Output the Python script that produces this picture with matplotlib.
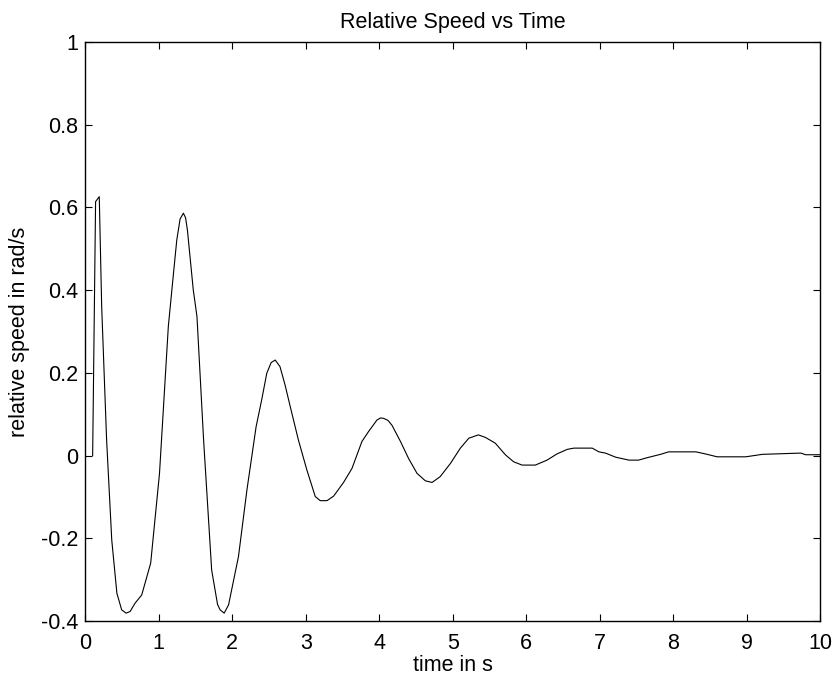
import matplotlib
matplotlib.use("Agg")
import matplotlib.pyplot as plt
import numpy as np

# values (time in s, relative speed in rad/s)
time_s = [0.10, 0.14, 0.19, 0.223, 0.29, 0.36, 0.43, 0.495, 0.555, 0.61,
          0.677, 0.768, 0.89, 1.01, 1.13, 1.20, 1.245, 1.29, 1.335, 1.365, 1.39, 1.47,
          1.52, 1.61, 1.72, 1.80, 1.835, 1.89, 1.95, 2.085, 2.20, 2.325, 2.40,
          2.47, 2.53, 2.585, 2.65, 2.72, 2.79, 2.90, 3.016, 3.13, 3.197, 3.29, 3.38,
          3.515, 3.63, 3.765, 3.855, 3.97, 4.02, 4.06, 4.12, 4.175, 4.29, 4.40, 4.515,
          4.628, 4.72, 4.83, 4.97, 5.105, 5.22, 5.35, 5.445, 5.58, 5.72,
          5.83, 5.945, 6.125, 6.285, 6.42, 6.56, 6.65, 6.90, 6.99, 7.08,
          7.22, 7.40, 7.53, 7.65, 7.83, 7.94, 8.31, 8.44, 8.60, 8.99,
          9.215, 9.74, 9.805, 10.0]
rel_speed = [0.0, 0.614, 0.626, 0.36, 0.038, -0.204, -0.333, -0.373, -0.381, -0.377,
             -0.357, -0.337, -0.26, -0.043, 0.312, 0.44, 0.521, 0.572, 0.586, 0.575, 0.545, 0.40,
             0.336, 0.038, -0.277, -0.36, -0.373, -0.381, -0.361, -0.244, -0.083, 0.07, 0.134,
             0.199, 0.225, 0.231, 0.215, 0.17, 0.118, 0.038, -0.035, -0.099, -0.109, -0.109, -0.098,
             -0.065, -0.031, 0.034, 0.058, 0.086, 0.091, 0.090, 0.085, 0.073, 0.034, -0.007, -0.043,
             -0.061, -0.065, -0.051, -0.019, 0.018, 0.042, 0.05, 0.044, 0.030, 0.0015,
             -0.015, -0.023, -0.023, -0.011, 0.004, 0.015, 0.018, 0.018, 0.009, 0.006,
             -0.004, -0.011, -0.011, -0.005, 0.003, 0.009, 0.009, 0.004, -0.003, -0.003,
             0.003, 0.006, 0.002, 0.002]

x_ticks = np.arange(0, 11, 1)
y_ticks = [-0.4, -0.2, 0, 0.2, 0.4, 0.6, 0.8, 1]
y_tick_labels = ["-0.4", "-0.2", "0", "0.2", "0.4", "0.6", "0.8", "1"]

plt.rcParams['font.family'] = ['Liberation Sans', 'DejaVu Sans']
fs = 15.5

dpi = 100
fig = plt.figure(figsize=(835 / dpi, 682 / dpi), dpi=dpi)
ax = fig.add_axes([85.3 / 835, 61 / 682, (820 - 85.3) / 835, (621 - 42) / 682])

ax.plot(time_s, rel_speed, color='black', linewidth=0.8)

ax.set_xlim(0, 10)
ax.set_ylim(-0.4, 1)
ax.set_xticks(x_ticks)
ax.set_yticks(y_ticks)
ax.set_yticklabels(y_tick_labels)
ax.tick_params(direction='in', length=5, width=0.8, top=True, right=True,
               labelsize=fs)
ax.tick_params(axis='x', pad=8.5)
ax.tick_params(axis='y', pad=5)
for s in ax.spines.values():
    s.set_linewidth(1.0)

ax.set_xlabel("time in s", fontsize=fs, labelpad=1)
ax.set_ylabel("relative speed in rad/s", fontsize=fs, labelpad=8)
ax.set_title("Relative Speed vs Time", fontsize=fs, pad=10)

fig.savefig("out.png", dpi=dpi)
